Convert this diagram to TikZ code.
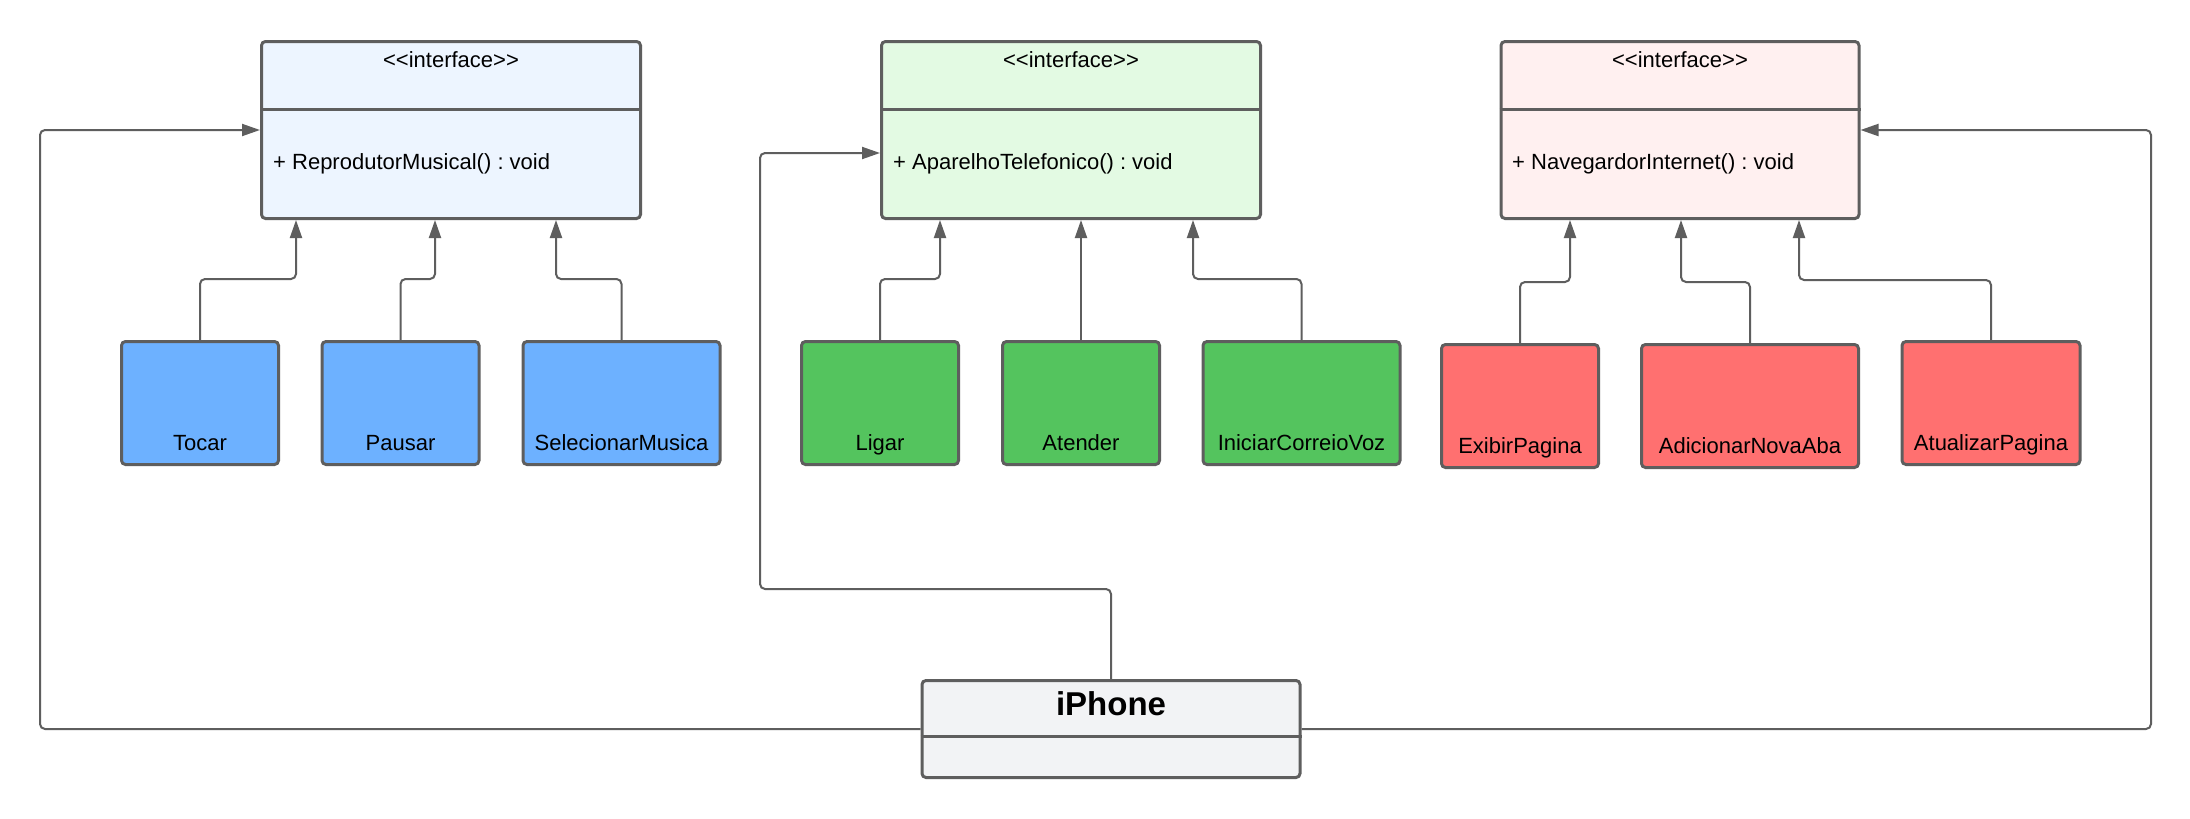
\documentclass[tikz,border=0pt]{standalone}
\usepackage{fontspec}
\setmainfont{Liberation Sans}
\usetikzlibrary{arrows.meta,calc}
\definecolor{bord}{HTML}{5E5E5E}
\definecolor{ifblue}{HTML}{EDF5FF}
\definecolor{ifgreen}{HTML}{E3FAE3}
\definecolor{ifred}{HTML}{FFF0F0}
\definecolor{cblue}{HTML}{6DB1FF}
\definecolor{cgreen}{HTML}{54C45E}
\definecolor{cred}{HTML}{FF7070}
\definecolor{grayf}{HTML}{F2F3F5}
\begin{document}
\frenchspacing
\begin{tikzpicture}[x=1pt,y=-1pt,
  box/.style={draw=bord,line width=3pt,rounded corners=4pt,inner sep=0pt},
  iface/.style={box,minimum height=177pt},
  childbox/.style={box,minimum height=123pt},
  divider/.style={draw=bord,line width=3pt},
  conn/.style={draw=bord,line width=2pt,rounded corners=5pt,-{Triangle[length=18pt,width=12pt]}},
  txt/.style={font=\fontsize{22}{26}\selectfont,inner sep=0pt,anchor=base},
  ltxt/.style={font=\fontsize{22}{26}\selectfont,inner sep=0pt,anchor=base west},
  btxt/.style={font=\fontsize{33}{40}\selectfont\bfseries,inner sep=0pt,anchor=base}]
\useasboundingbox (0,0) rectangle (2190,819);
\fill[white] (0,0) rectangle (2190,819);

% interface boxes
\node[iface,fill=ifblue,minimum width=379pt] (ib) at (451,130) {};
\draw[divider] (ib.west |- 0,109) -- (ib.east |- 0,109);
\node[txt] (ibs) at (451,67) {<\kern0pt<interface>\kern0pt>};
\node[ltxt] (ibm) at (273,169) {+ ReprodutorMusical() : void};

\node[iface,fill=ifgreen,minimum width=379pt] (ig) at (1071,130) {};
\draw[divider] (ig.west |- 0,109) -- (ig.east |- 0,109);
\node[txt] (igs) at (1071,67) {<\kern0pt<interface>\kern0pt>};
\node[ltxt] (igm) at (893,169) {+ AparelhoTelefonico() : void};

\node[iface,fill=ifred,minimum width=358pt] (ir) at (1680,130) {};
\draw[divider] (ir.west |- 0,109) -- (ir.east |- 0,109);
\node[txt] (irs) at (1680,67) {<\kern0pt<interface>\kern0pt>};
\node[ltxt] (irm) at (1512,169) {+ NavegardorInternet() : void};

% children blue
\node[childbox,fill=cblue,minimum width=157pt] (tocar) at (200,403) {};
\node[txt] (tocart) at ($(tocar.south)+(0,-16)$) {Tocar};
\node[childbox,fill=cblue,minimum width=157pt] (pausar) at (400.5,403) {};
\node[txt] (pausart) at ($(pausar.south)+(0,-16)$) {Pausar};
\node[childbox,fill=cblue,minimum width=197pt] (selec) at (621.5,403) {};
\node[txt] (select) at ($(selec.south)+(0,-16)$) {SelecionarMusica};

% children green
\node[childbox,fill=cgreen,minimum width=157pt] (ligar) at (880,403) {};
\node[txt] (ligart) at ($(ligar.south)+(0,-16)$) {Ligar};
\node[childbox,fill=cgreen,minimum width=157pt] (atender) at (1081,403) {};
\node[txt] (atendert) at ($(atender.south)+(0,-16)$) {Atender};
\node[childbox,fill=cgreen,minimum width=197pt] (correio) at (1301.5,403) {};
\node[txt] (correiot) at ($(correio.south)+(0,-16)$) {IniciarCorreioVoz};

% children red
\node[childbox,fill=cred,minimum width=157pt] (exibir) at (1520,406) {};
\node[txt] (exibirt) at ($(exibir.south)+(0,-16)$) {ExibirPagina};
\node[childbox,fill=cred,minimum width=217pt] (adic) at (1750,406) {};
\node[txt] (adict) at ($(adic.south)+(0,-16)$) {AdicionarNovaAba};
\node[childbox,fill=cred,minimum width=178pt] (atual) at (1991,403) {};
\node[txt] (atualt) at ($(atual.south)+(0,-16)$) {AtualizarPagina};

% iPhone
\node[box,fill=grayf,minimum width=378pt,minimum height=97pt] (iphone) at (1111,729) {};
\draw[divider] (iphone.west |- 0,736) -- (iphone.east |- 0,736);
\node[btxt] (iphonet) at (1111,715) {iPhone};

% connectors children -> interfaces
\draw[conn] (tocar.north) -- (tocar.north |- 0,279) -| (ib.south -| 296,0);
\draw[conn] (pausar.north) -- (pausar.north |- 0,279) -| (ib.south -| 435,0);
\draw[conn] (selec.north) -- (selec.north |- 0,279) -| (ib.south -| 556,0);

\draw[conn] (ligar.north) -- (ligar.north |- 0,279) -| (ig.south -| 940,0);
\draw[conn] (atender.north) -- (ig.south -| atender.north);
\draw[conn] (correio.north) -- (correio.north |- 0,279) -| (ig.south -| 1193,0);

\draw[conn] (exibir.north) -- (exibir.north |- 0,282) -| (ir.south -| 1570,0);
\draw[conn] (adic.north) -- (adic.north |- 0,282) -| (ir.south -| 1681,0);
\draw[conn] (atual.north) -- (atual.north |- 0,280) -| (ir.south -| 1799,0);

% connectors iPhone -> interfaces
\coordinate (lx) at (40,729);
\coordinate (rx) at (2151,729);
\draw[conn] (iphone.west) -- (lx) |- (ib.west);
\draw[conn] (iphone.east) -- (rx) |- (ir.east);
\draw[conn] (iphone.north) -- (iphone.north |- 0,589) -| (760,400) |- (ig.west |- 0,153);
\end{tikzpicture}
\end{document}
